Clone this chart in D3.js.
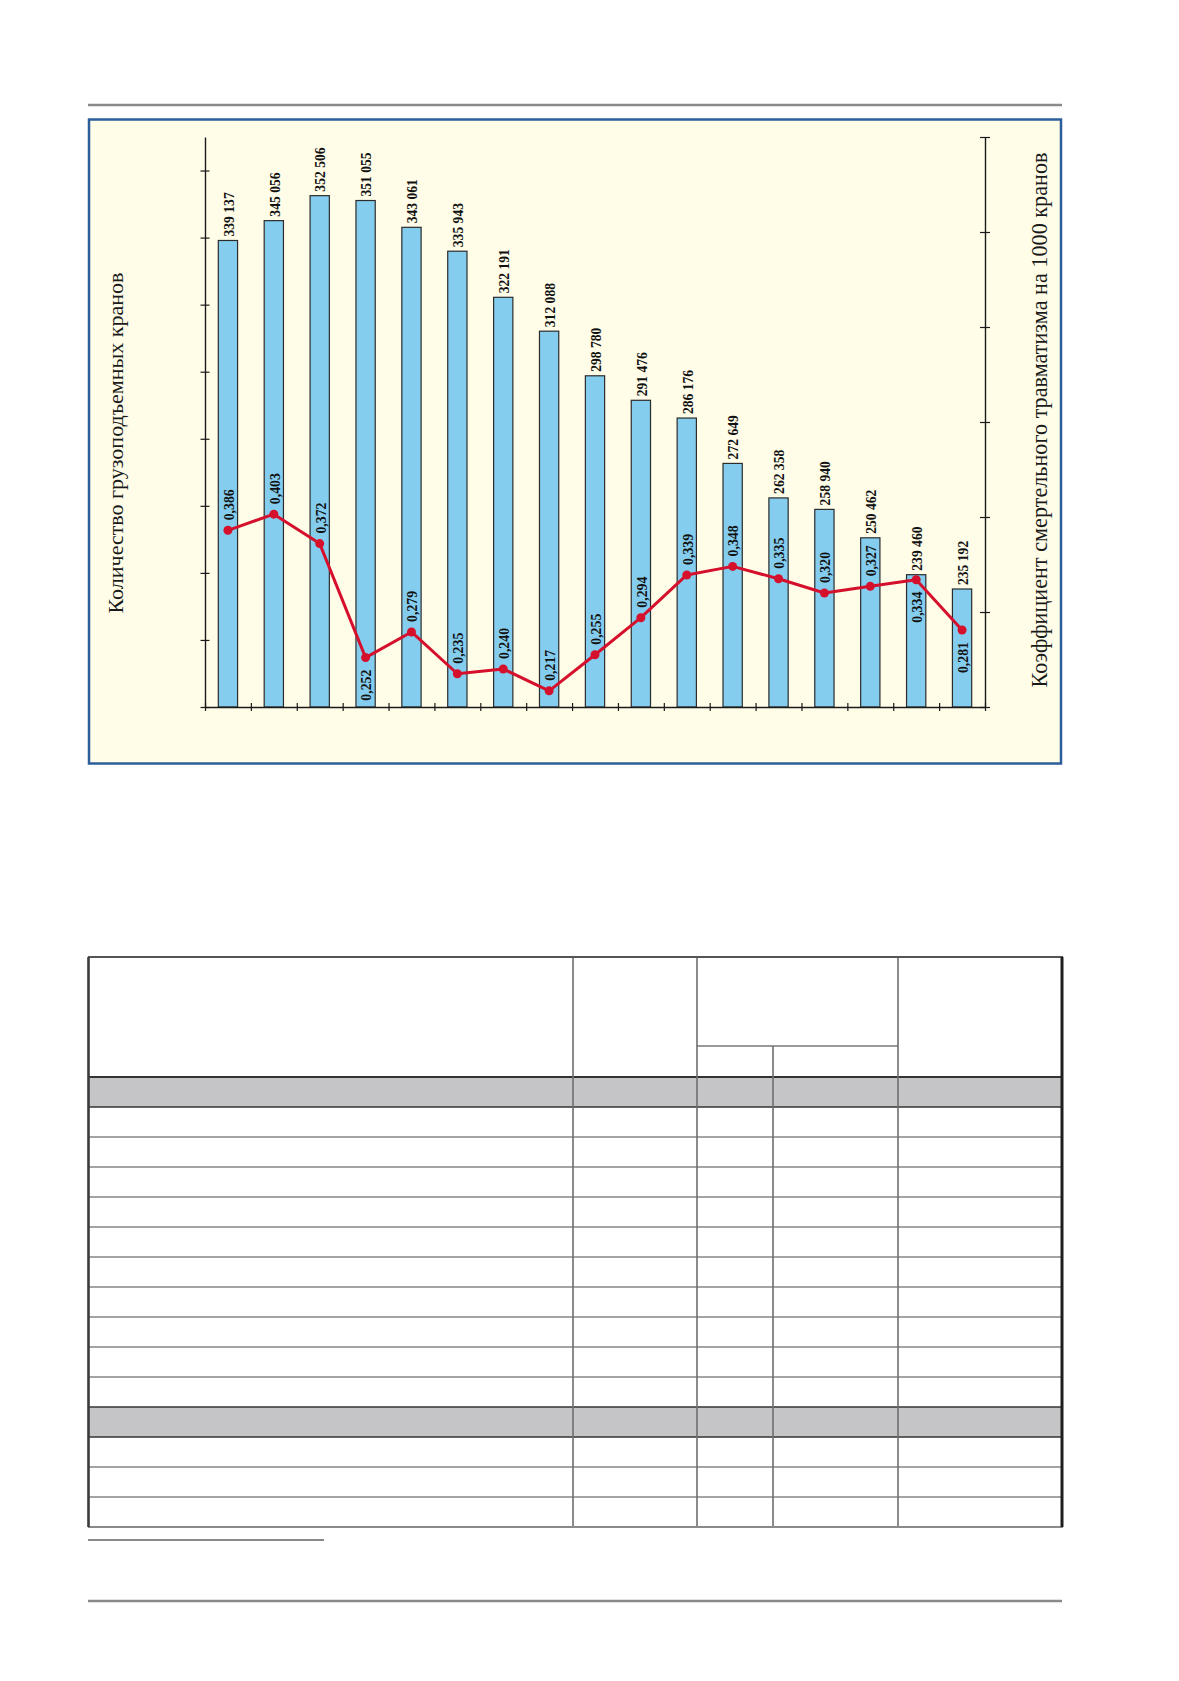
<!DOCTYPE html>
<html>
<head>
<meta charset="utf-8">
<script src="https://cdn.jsdelivr.net/npm/d3@7/dist/d3.min.js"></script>
<style>
  html, body { margin: 0; padding: 0; background: #ffffff; }
  svg { display: block; }
</style>
</head>
<body>
<svg id="page" width="1179" height="1681"></svg>
<script>
// ---------------- DATA ----------------
const categories = ["1","2","3","4","5","6","7","8","9","10","11","12","13","14","15","16","17"];
const craneCounts = [339137, 345056, 352506, 351055, 343061, 335943, 322191, 312088, 298780, 291476, 286176, 272649, 262358, 258940, 250462, 239460, 235192];
const fatalityRates = [0.386, 0.403, 0.372, 0.252, 0.279, 0.235, 0.240, 0.217, 0.255, 0.294, 0.339, 0.348, 0.335, 0.320, 0.327, 0.334, 0.281];
const leftAxisTicks = [200000, 220000, 240000, 260000, 280000, 300000, 320000, 340000, 360000];
const rightAxisTicks = [0.2, 0.3, 0.4, 0.5, 0.6, 0.7, 0.8];
const leftTitle = "Количество грузоподъемных кранов";
const rightTitle = "Коэффициент смертельного травматизма на 1000 кранов";

// ---------------- LAYOUT ----------------
const svg = d3.select("#page");
const W = 1179, H = 1681;
const plot = { left: 205, right: 985, top: 137, bottom: 707 };
const rateLabelSide = ["up","up","up","down","up","up","up","up","up","up","up","up","up","up","up","down","down"];
const serif = "'Liberation Serif', 'Times New Roman', serif";

const ru = d3.formatLocale({ decimal: ",", thousands: " ", grouping: [3], currency: ["", ""] });
const fmtCount = ru.format(",d");
const fmtRate = ru.format(".3f");

svg.append("rect").attr("width", W).attr("height", H).attr("fill", "#ffffff");

// page rules
const rule = (x1, x2, y, w, c) => svg.append("line")
  .attr("x1", x1).attr("x2", x2).attr("y1", y).attr("y2", y)
  .attr("stroke", c).attr("stroke-width", w);
rule(88, 1062, 105, 2.5, "#8a8a8a");
rule(88, 324, 1540, 2, "#8a8a8a");
rule(88, 1062, 1601, 2.5, "#8a8a8a");

// chart panel
svg.append("rect")
  .attr("x", 89).attr("y", 119.5).attr("width", 972).attr("height", 644)
  .attr("fill", "#fffde8").attr("stroke", "#2d5e9c").attr("stroke-width", 2.5);

// scales
const x = d3.scaleBand().domain(categories).range([plot.left, plot.right])
  .paddingInner(0.58).paddingOuter(0.29);
const xEdges = d3.scaleLinear().domain([0, categories.length]).range([plot.left, plot.right]);
const yLeft = d3.scaleLinear().domain([200000, 370000]).range([plot.bottom, plot.top]);
const yRight = d3.scaleLinear().domain([0.2, 0.8]).range([plot.bottom, plot.top]);

const g = svg.append("g");

// bars
g.selectAll("rect.bar").data(craneCounts).join("rect")
  .attr("class", "bar")
  .attr("x", (d, i) => x(categories[i]))
  .attr("width", x.bandwidth())
  .attr("y", d => yLeft(d))
  .attr("height", d => plot.bottom - yLeft(d))
  .attr("fill", "#85cdef")
  .attr("stroke", "#2b2b2b")
  .attr("stroke-width", 1.2);

// axes
function styleAxis(sel, horizontal, half) {
  sel.select(".domain").attr("stroke", "#1a1a1a").attr("stroke-width", 1.4);
  sel.selectAll(".tick line").attr("stroke", "#1a1a1a").attr("stroke-width", 1.2);
  if (horizontal) sel.selectAll(".tick line").attr("y1", -half).attr("y2", half);
  else sel.selectAll(".tick line").attr("x1", -half).attr("x2", half);
  sel.selectAll(".tick text").remove();
}
const axL = g.append("g").attr("transform", `translate(${plot.left},0)`)
  .call(d3.axisLeft(yLeft).tickValues(leftAxisTicks).tickFormat("").tickSizeOuter(0));
styleAxis(axL, false, 4.5);
const axR = g.append("g").attr("transform", `translate(${plot.right},0)`)
  .call(d3.axisRight(yRight).tickValues(rightAxisTicks).tickFormat("").tickSizeOuter(0));
styleAxis(axR, false, 5);
const axB = g.append("g").attr("transform", `translate(0,${plot.bottom})`)
  .call(d3.axisBottom(xEdges).tickValues(d3.range(categories.length + 1)).tickFormat("").tickSizeOuter(0));
styleAxis(axB, true, 4);

// bar value labels
g.selectAll("text.cnt").data(craneCounts).join("text")
  .attr("class", "cnt")
  .attr("transform", (d, i) => `translate(${x(categories[i]) + x.bandwidth() / 2 + 1},${yLeft(d) - 4}) rotate(-90)`)
  .attr("dy", "0.35em")
  .attr("text-anchor", "start")
  .attr("font-family", serif)
  .attr("font-weight", "bold")
  .attr("font-size", 13.6)
  .attr("fill", "#111")
  .text(d => fmtCount(d));

// rate line
const cx = i => x(categories[i]) + x.bandwidth() / 2;
const line = d3.line().x((d, i) => cx(i)).y(d => yRight(d));
g.append("path").datum(fatalityRates)
  .attr("d", line)
  .attr("fill", "none")
  .attr("stroke", "#d5102c")
  .attr("stroke-width", 3)
  .attr("stroke-linejoin", "round");
g.selectAll("circle.pt").data(fatalityRates).join("circle")
  .attr("class", "pt")
  .attr("cx", (d, i) => cx(i))
  .attr("cy", d => yRight(d))
  .attr("r", 4.5)
  .attr("fill", "#d5102c");

g.selectAll("text.rate").data(fatalityRates).join("text")
  .attr("class", "rate")
  .attr("transform", (d, i) => {
    const up = rateLabelSide[i] === "up";
    return `translate(${cx(i) + 1},${yRight(d) + (up ? -10 : 12)}) rotate(-90)`;
  })
  .attr("dy", "0.35em")
  .attr("text-anchor", (d, i) => rateLabelSide[i] === "up" ? "start" : "end")
  .attr("font-family", serif)
  .attr("font-weight", "bold")
  .attr("font-size", 13.8)
  .attr("fill", "#111")
  .text(d => fmtRate(d));

// axis titles
svg.append("text")
  .attr("transform", `translate(115,443) rotate(-90)`)
  .attr("dy", "0.35em")
  .attr("text-anchor", "middle")
  .attr("font-family", serif)
  .attr("font-size", 22)
  .attr("fill", "#1a1a1a")
  .text(leftTitle);
svg.append("text")
  .attr("transform", `translate(1039,420) rotate(-90)`)
  .attr("dy", "0.35em")
  .attr("text-anchor", "middle")
  .attr("font-family", serif)
  .attr("font-size", 22.2)
  .attr("fill", "#1a1a1a")
  .text(rightTitle);

// ---------------- TABLE (empty grid) ----------------
const T = { left: 88, right: 1063, top: 957, headBottom: 1077, subHead: 1046, rowH: 30, rows: 15 };
const colX = [88, 573, 697, 773, 898, 1063];
const grayRows = [0, 11];
const tg = svg.append("g");
const tBottom = T.headBottom + T.rows * T.rowH;

tg.append("rect").attr("x", T.left).attr("y", T.top).attr("width", T.right - T.left).attr("height", tBottom - T.top).attr("fill", "#fff");
grayRows.forEach(r => {
  tg.append("rect").attr("x", T.left).attr("y", T.headBottom + r * T.rowH)
    .attr("width", T.right - T.left).attr("height", T.rowH).attr("fill", "#c5c5c7");
});
const ln = (x1, y1, x2, y2, c, w) => tg.append("line")
  .attr("x1", x1).attr("y1", y1).attr("x2", x2).attr("y2", y2)
  .attr("stroke", c).attr("stroke-width", w);

// horizontal row lines
for (let r = 1; r < T.rows; r++) {
  const yy = T.headBottom + r * T.rowH;
  const dark = grayRows.includes(r) || grayRows.includes(r - 1);
  ln(T.left, yy, T.right, yy, dark ? "#333" : "#858585", 1.6);
}
ln(T.left, T.headBottom, T.right, T.headBottom, "#333", 1.8);
ln(colX[2], T.subHead, colX[4], T.subHead, "#777", 1.6);
// vertical lines
[colX[1], colX[2], colX[4]].forEach(xx => ln(xx, T.top, xx, tBottom, "#6e6e6e", 1.6));
ln(colX[3], T.subHead, colX[3], tBottom, "#6e6e6e", 1.6);
// borders
ln(T.left, T.top, T.right, T.top, "#555", 2.2);
ln(T.left, tBottom, T.right, tBottom, "#8a8a8a", 2.2);
ln(T.left + 0.5, T.top, T.left + 0.5, tBottom, "#3a3a3a", 2.6);
ln(T.right - 1, T.top, T.right - 1, tBottom, "#1e1e1e", 3);
</script>
</body>
</html>
